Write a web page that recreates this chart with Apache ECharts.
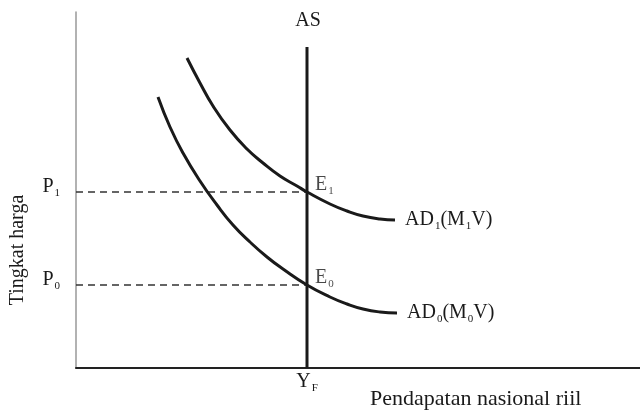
<!DOCTYPE html>
<html>
<head>
<meta charset="utf-8">
<script src="https://cdn.jsdelivr.net/npm/echarts@6/dist/echarts.min.js"></script>
<style>
  html, body { margin: 0; padding: 0; background: #fff; }
  #chart { width: 640px; height: 411px; }
</style>
</head>
<body>
<div id="chart"></div>
<script>
// values (arbitrary units, origin at the axis corner)
const ad1Points = [[111, 310], [124, 285], [137, 262], [154, 238], [171, 219], [187, 205],
    [204, 192], [221, 182], [231, 176], [254, 164], [271, 157], [287, 152], [304, 149], [319, 148]];
const ad0Points = [[82, 271], [94, 241], [107, 215], [124, 187], [141, 163], [157, 143],
    [174, 126], [191, 111], [207, 99], [231, 83], [254, 71], [271, 64], [287, 59], [304, 56], [321, 55]];
const yFull = 231;
const asTop = 321;
const priceLevels = [83, 176];
const priceNames = ['{a|P}{s|0}', '{a|P}{s|1}'];
const equilibria = [[yFull, 83], [yFull, 176]];
const eqNames = ['{a|E}{s|0}', '{a|E}{s|1}'];

const serif = '"Liberation Serif", "DejaVu Serif", serif';
const ink = '#1a1a1a';

const rich = {
    a: { fontFamily: serif, fontSize: 20, color: ink, lineHeight: 20, verticalAlign: 'top' },
    s: { fontFamily: serif, fontSize: 11, color: ink, lineHeight: 10, padding: [11, 0, 0, 1], verticalAlign: 'top' }
};

const chart = echarts.init(document.getElementById('chart'));

const option = {
    backgroundColor: '#fff',
    animation: false,
    grid: { left: 76, right: 0, top: 12, bottom: 43 },
    xAxis: {
        type: 'value', min: 0, max: 564,
        splitLine: { show: false },
        axisLine: { lineStyle: { color: '#222', width: 2 } },
        axisTick: { show: false },
        axisLabel: {
            customValues: [yFull],
            formatter: () => '{a|Y}{s|F}',
            rich: rich, margin: 4
        }
    },
    yAxis: {
        type: 'value', min: 0, max: 356,
        splitLine: { show: false },
        axisLine: { show: true, lineStyle: { color: '#999', width: 1.5 } },
        axisTick: { show: false },
        axisLabel: {
            customValues: priceLevels,
            formatter: (v) => priceNames[priceLevels.indexOf(v)],
            rich: rich, margin: 16, padding: [0, 0, 10, 0]
        }
    },
    graphic: [
        {
            type: 'text', x: 18, y: 250, rotation: Math.PI / 2,
            style: { text: 'Tingkat harga', font: '20px ' + serif, fill: ink, align: 'center', verticalAlign: 'middle' }
        },
        {
            type: 'text', left: 370, top: 388,
            style: { text: 'Pendapatan nasional riil', font: '22px ' + serif, fill: ink }
        },
        {
            type: 'text', x: 308, y: 21,
            style: { text: 'AS', font: '20px ' + serif, fill: ink, align: 'center', verticalAlign: 'middle' }
        }
    ],
    series: [
        {
            name: 'P1', type: 'line', symbol: 'none', silent: true,
            data: [[0, priceLevels[1]], [yFull, priceLevels[1]]],
            lineStyle: { color: '#333', width: 1.3, type: [7, 5] }
        },
        {
            name: 'P0', type: 'line', symbol: 'none', silent: true,
            data: [[0, priceLevels[0]], [yFull, priceLevels[0]]],
            lineStyle: { color: '#333', width: 1.3, type: [7, 5] }
        },
        {
            name: 'AS', type: 'line', symbol: 'none', silent: true,
            data: [[yFull, 0], [yFull, asTop]],
            lineStyle: { color: ink, width: 3 }
        },
        {
            name: 'AD1', type: 'line', symbol: 'none', smooth: 0.5, silent: true,
            data: ad1Points,
            lineStyle: { color: ink, width: 3 },
            endLabel: { show: true, formatter: () => '{a|AD}{s|1}{a|(M}{s|1}{a|V)}', rich: rich, distance: 10 }
        },
        {
            name: 'AD0', type: 'line', symbol: 'none', smooth: 0.5, silent: true,
            data: ad0Points,
            lineStyle: { color: ink, width: 3 },
            endLabel: { show: true, formatter: () => '{a|AD}{s|0}{a|(M}{s|0}{a|V)}', rich: rich, distance: 10 }
        },
        {
            name: 'E', type: 'scatter', symbolSize: 0, silent: true,
            data: equilibria,
            label: {
                show: true, position: [8, -17],
                formatter: (p) => eqNames[p.dataIndex],
                rich: rich
            }
        }
    ]
};

chart.setOption(option);
</script>
</body>
</html>
